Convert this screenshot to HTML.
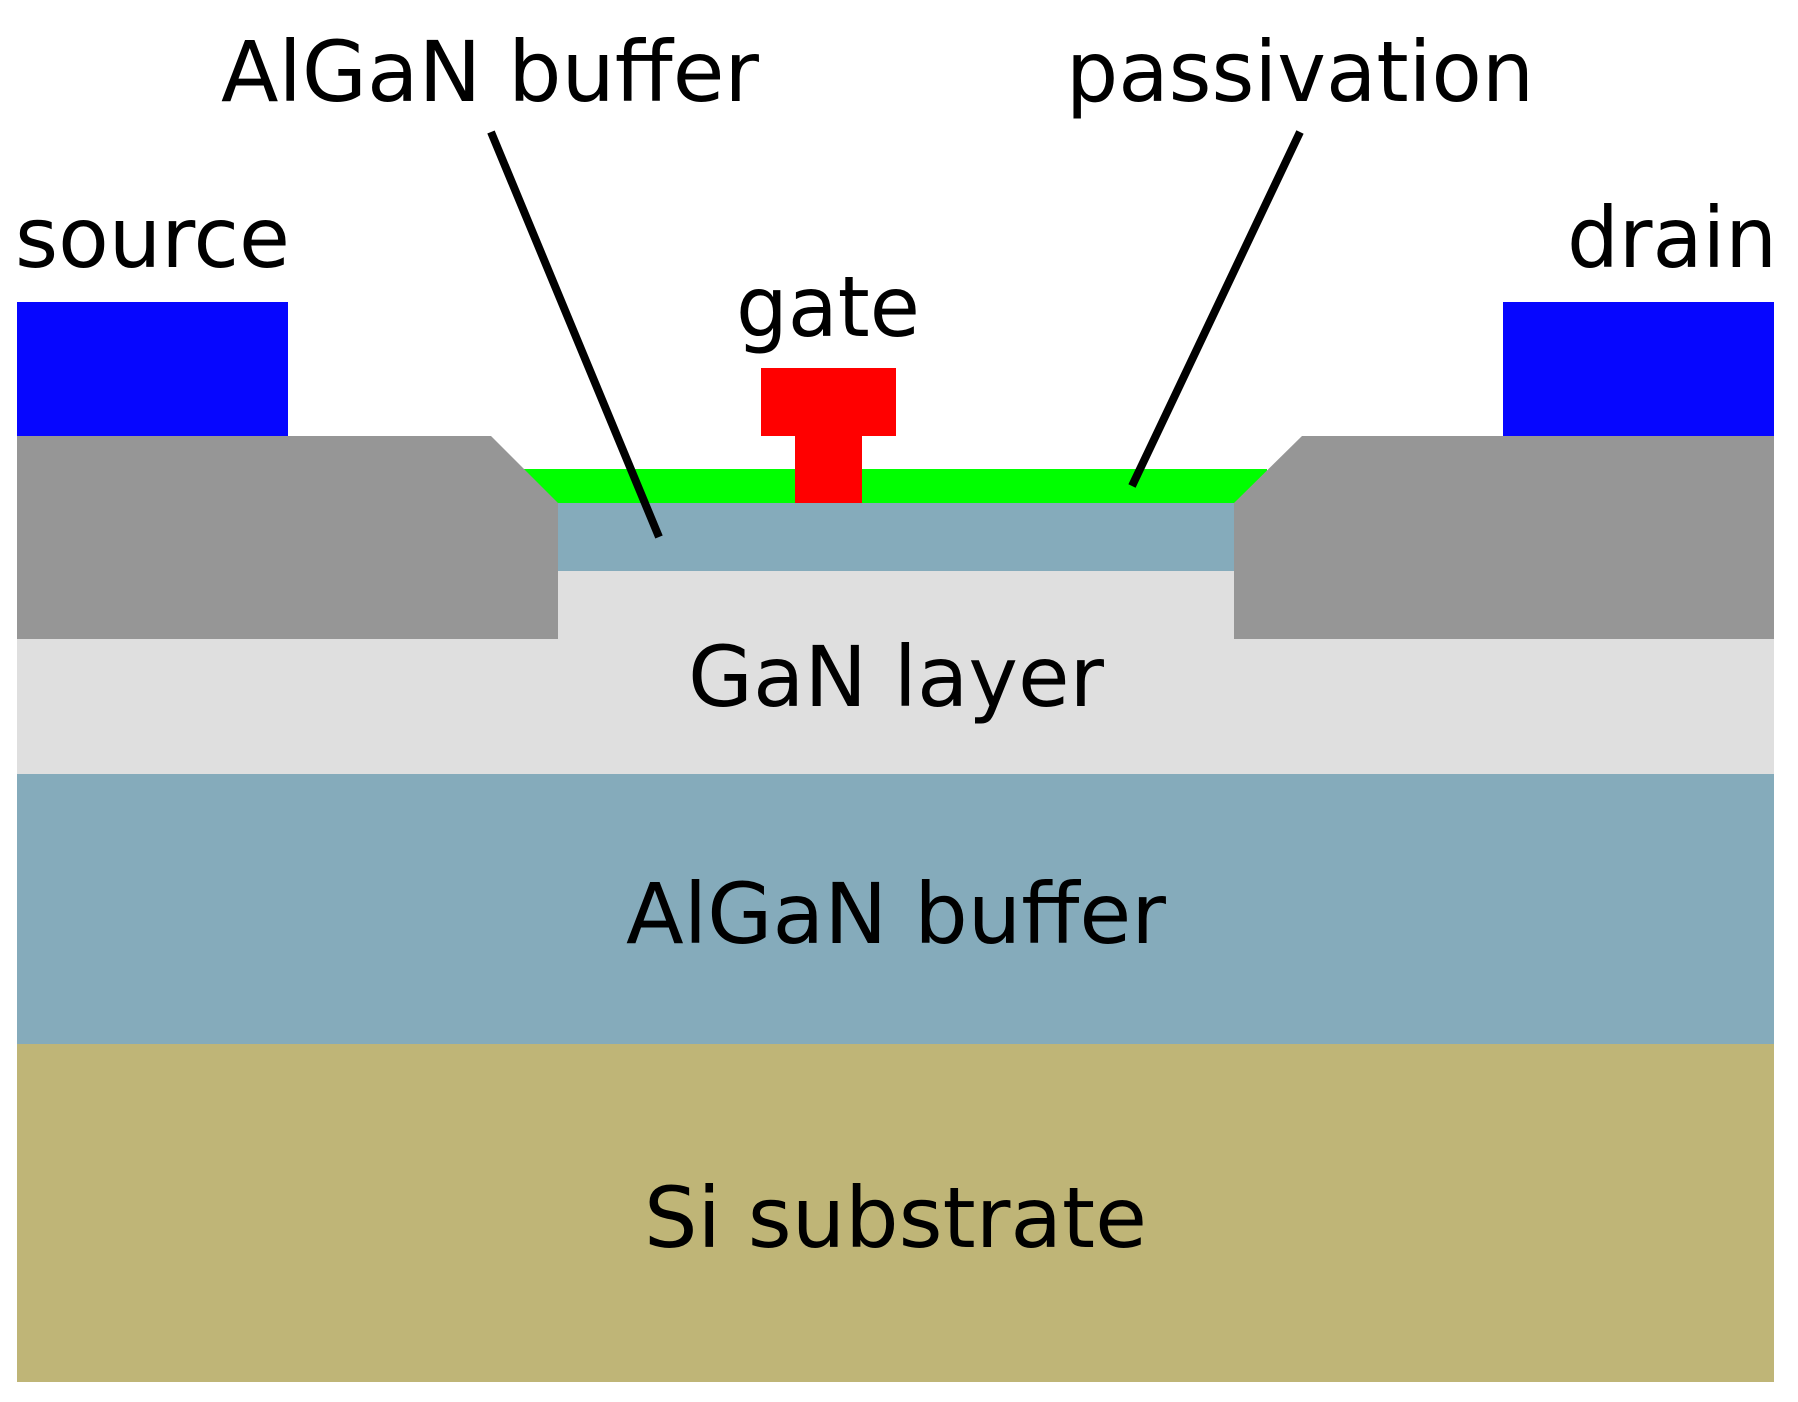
<!DOCTYPE html>
<html><head><meta charset="utf-8"><style>html,body{margin:0;padding:0;background:#fff}svg{display:block}</style></head>
<body>
<svg width="1798" height="1402" viewBox="0 0 1798 1402" xmlns="http://www.w3.org/2000/svg" font-family="'DejaVu Sans','Liberation Sans',sans-serif" font-size="84" fill="#000">
<rect x="17" y="1044" width="1757" height="338" fill="#bfb577"/>
<rect x="17" y="774" width="1757" height="270" fill="#85abbb"/>
<rect x="17" y="571" width="1757" height="203" fill="#dfdfdf"/>
<rect x="524" y="469" width="743" height="34" fill="#00ff00"/>
<rect x="558" y="503" width="676" height="68" fill="#85abbb"/>
<polygon points="17,436 491,436 558,503 558,639 17,639" fill="#969696"/>
<polygon points="1302,436 1774,436 1774,639 1234,639 1234,503" fill="#969696"/>
<rect x="17" y="302" width="271" height="134" fill="#0606ff"/>
<rect x="1503" y="302" width="271" height="134" fill="#0606ff"/>
<rect x="761" y="368" width="135" height="68" fill="#ff0000"/>
<rect x="795" y="435" width="67" height="68" fill="#ff0000"/>
<line x1="491" y1="132" x2="659" y2="537" stroke="#000" stroke-width="8"/>
<line x1="1300" y1="132" x2="1132" y2="486" stroke="#000" stroke-width="8"/>
<text x="221" y="101" textLength="538" lengthAdjust="spacingAndGlyphs">AlGaN buffer</text>
<text x="1066" y="101" textLength="468" lengthAdjust="spacingAndGlyphs">passivation</text>
<text x="15" y="267" textLength="275" lengthAdjust="spacingAndGlyphs">source</text>
<text x="1567" y="267" textLength="210" lengthAdjust="spacingAndGlyphs">drain</text>
<text x="736" y="336" textLength="184" lengthAdjust="spacingAndGlyphs">gate</text>
<text x="688" y="706" textLength="416" lengthAdjust="spacingAndGlyphs">GaN layer</text>
<text x="626" y="943" textLength="540" lengthAdjust="spacingAndGlyphs">AlGaN buffer</text>
<text x="644" y="1247" textLength="503" lengthAdjust="spacingAndGlyphs">Si substrate</text>
</svg>
</body></html>
